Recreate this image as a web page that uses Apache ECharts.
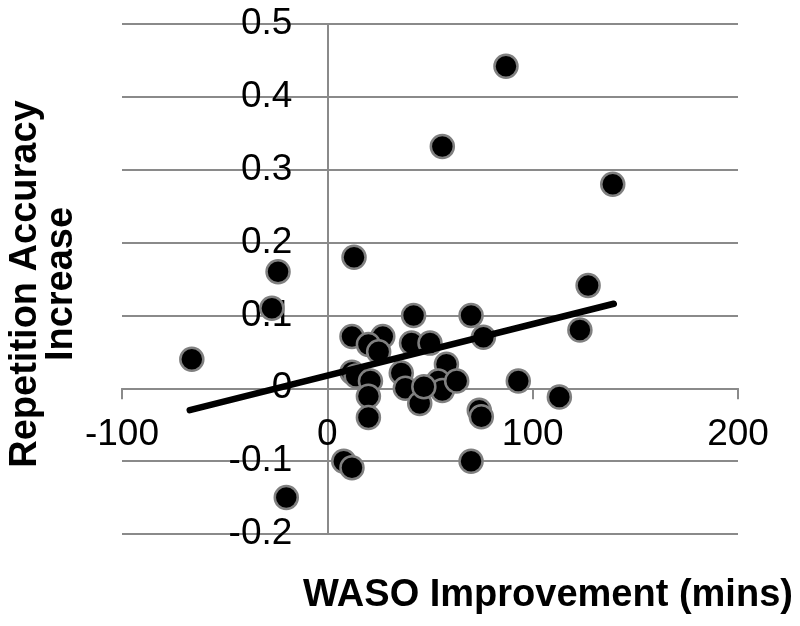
<!DOCTYPE html>
<html>
<head>
<meta charset="utf-8">
<script src="https://cdn.jsdelivr.net/npm/echarts@6/dist/echarts.min.js"></script>
<style>
html,body{margin:0;padding:0;background:#fff;}
#chart{width:800px;height:626px;}
</style>
</head>
<body>
<div id="chart"></div>
<script>
// WASO improvement (mins)
const wasoX = [-66, -27, -24, -20, 13, 56, 87, 139, 127, 123, 113, 93, 70, 76, 42, 70, 8, 12, 74, 75,
  12, 27, 20, 25, 41, 50, 58, 36, 38, 45, 54, 56, 63, 47, 12, 14, 21, 20, 20];
// Repetition accuracy increase
const accY = [0.040, 0.110, 0.160, -0.150, 0.180, 0.332, 0.442, 0.280, 0.141, 0.080, -0.012, 0.010, 0.100, 0.070, 0.100, -0.100, -0.100, -0.109, -0.030, -0.039,
  0.071, 0.071, 0.060, 0.050, 0.062, 0.062, 0.033, 0.021, 0.000, -0.021, 0.010, -0.003, 0.010, 0.002, 0.022, 0.017, 0.010, -0.011, -0.040];
// linear trendline end points
const trendX = [-67, 139.5];
const trendY = [-0.030, 0.116];
// tick labels
const xTicks = [-100, 0, 100, 200];
const yTicks = [-0.2, -0.1, 0, 0.1, 0.2, 0.3, 0.4, 0.5];

const points = wasoX.map((x, i) => [x, accY[i]]);
const trend = trendX.map((x, i) => [x, trendY[i]]);

const axisGray = '#8a8a8a';
const gridLeft = 122, gridRight = 62, gridTop = 24, gridBottom = 92;
const plotW = 800 - gridLeft - gridRight, plotH = 626 - gridTop - gridBottom;
// shift axes to cross at zero (pixel offset of the zero value from the grid edge)
const xZeroFrac = (0 - xTicks[0]) / (xTicks[xTicks.length - 1] - xTicks[0]);
const yZeroFrac = (0 - yTicks[0]) / (yTicks[yTicks.length - 1] - yTicks[0]);

const chart = echarts.init(document.getElementById('chart'), null, {renderer: 'canvas'});
chart.setOption({
  animation: false,
  backgroundColor: '#ffffff',
  grid: {left: gridLeft, right: gridRight, top: gridTop, bottom: gridBottom, containLabel: false, outerBoundsMode: 'none'},
  xAxis: {
    type: 'value',
    min: xTicks[0], max: xTicks[xTicks.length - 1], interval: xTicks[1] - xTicks[0],
    offset: -plotH * yZeroFrac,
    axisLine: {show: true, onZero: false, lineStyle: {color: axisGray, width: 2}},
    axisTick: {show: true, length: 11, lineStyle: {color: axisGray, width: 2}},
    splitLine: {show: false},
    axisLabel: {fontFamily: 'Liberation Sans', fontSize: 37, color: '#000', margin: 28},
    name: 'WASO Improvement (mins)',
    nameLocation: 'middle',
    nameGap: 188,
    nameTextStyle: {fontFamily: 'Liberation Sans', fontWeight: 'bold', fontSize: 38, color: '#000', lineHeight: 38, padding: [0, 0, 0, 236]}
  },
  yAxis: {
    type: 'value',
    min: yTicks[0], max: yTicks[yTicks.length - 1], interval: 0.1,
    offset: -plotW * xZeroFrac,
    axisLine: {show: true, onZero: false, lineStyle: {color: axisGray, width: 2}},
    axisTick: {show: false},
    splitLine: {show: true, lineStyle: {color: axisGray, width: 2}},
    axisLabel: {fontFamily: 'Liberation Sans', fontSize: 37, color: '#000', margin: 35,
      formatter: v => String(Math.round(v * 10) / 10)},
    name: 'Repetition Accuracy\nIncrease',
    nameLocation: 'middle',
    nameRotate: 90,
    nameGap: 248,
    nameTextStyle: {fontFamily: 'Liberation Sans', fontWeight: 'bold', fontSize: 38, color: '#000', lineHeight: 36, align: 'center', padding: [0, 10, 0, 0]}
  },
  series: [
    {
      type: 'scatter',
      data: points,
      symbol: 'circle',
      symbolSize: 23,
      itemStyle: {color: '#000', borderColor: '#808080', borderWidth: 2.5, opacity: 1},
      z: 2
    },
    {
      type: 'line',
      data: trend,
      symbol: 'none',
      lineStyle: {color: '#000', width: 6.5, cap: 'round'},
      z: 3
    }
  ]
});
</script>
</body>
</html>
